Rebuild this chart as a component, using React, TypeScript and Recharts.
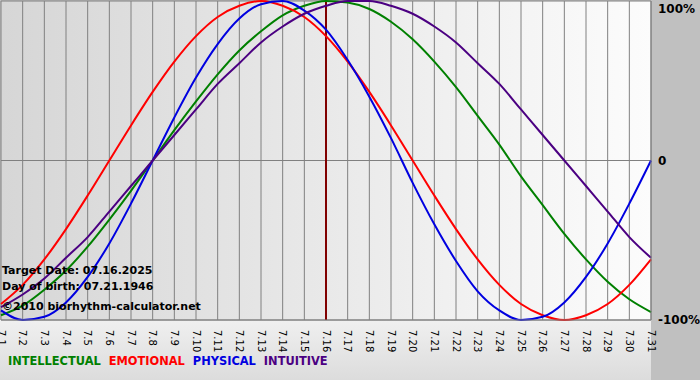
import { LineChart, Line, XAxis, YAxis, CartesianGrid, ReferenceLine } from 'recharts';

// days of July shown on the axis
const days = [
  1, 2, 3, 4, 5, 6, 7, 8, 9, 10, 11, 12, 13, 14, 15, 16,
  17, 18, 19, 20, 21, 22, 23, 24, 25, 26, 27, 28, 29, 30, 31,
];

// values in percent
const intellectual = [
  -97, -91, -81, -69, -54, -37, -19, 0, 19, 37, 54, 69, 81, 91, 97, 100,
  99, 95, 87, 76, 62, 46, 28, 10, -10, -28, -46, -62, -76, -87, -95,
];
const emotional = [
  -90, -78, -62, -43, -22, 0, 22, 43, 62, 78, 90, 97, 100, 97, 90, 78,
  62, 43, 22, 0, -22, -43, -62, -78, -90, -97, -100, -97, -90, -78, -62,
];
const physical = [
  -94, -100, -98, -89, -73, -52, -27, 0, 27, 52, 73, 89, 98, 100, 94, 82,
  63, 40, 14, -14, -40, -63, -82, -94, -100, -98, -89, -73, -52, -27, 0,
];
const intuitive = [
  -92, -84, -74, -61, -48, -32, -16, 0, 16, 32, 48, 61, 74, 84, 92, 97,
  100, 100, 97, 92, 84, 74, 61, 48, 32, 16, 0, -16, -32, -48, -61,
];

const yTicks = [-100, 0, 100];
const yLabels: Record<number, string> = { '-100': '-100%', '0': '0', '100': '100%' };

const series = [
  { key: 'intellectual', name: 'INTELLECTUAL', color: '#008000' },
  { key: 'emotional', name: 'EMOTIONAL', color: '#ff0000' },
  { key: 'physical', name: 'PHYSICAL', color: '#0000e0' },
  { key: 'intuitive', name: 'INTUITIVE', color: '#4b0082' },
];

const data = days.map((d, i) => ({
  day: d,
  intellectual: intellectual[i],
  emotional: emotional[i],
  physical: physical[i],
  intuitive: intuitive[i],
}));

const font = '"DejaVu Sans", Verdana, sans-serif';

const DayTick = (props: any) => {
  const { x, y, payload } = props;
  return (
    <text
      transform={`translate(${x},${y + 2}) rotate(90)`}
      textAnchor="start"
      dominantBaseline="central"
      fontSize={10}
      fontFamily={font}
      fill="#000"
    >
      {`7.${payload.value}`}
    </text>
  );
};

const PctTick = (props: any) => {
  const { y, payload } = props;
  const ty = Math.min(Math.max(y, 7), 322);
  return (
    <text
      x={658}
      y={ty}
      textAnchor="start"
      dominantBaseline="central"
      fontSize={12}
      fontWeight="bold"
      fontFamily={font}
      fill="#000"
    >
      {yLabels[payload.value]}
    </text>
  );
};

const noteStyle = {
  position: 'absolute' as const,
  left: 2,
  fontFamily: font,
  fontWeight: 'bold',
  fontSize: 11,
  color: '#000',
  lineHeight: '14px',
  whiteSpace: 'nowrap' as const,
};

export default function App() {
  return (
    <div
      style={{
        position: 'absolute',
        left: 0,
        top: 0,
        width: 700,
        height: 380,
        overflow: 'hidden',
        background: '#c0c0c0',
      }}
    >
      {/* light strip under the plot */}
      <div
        style={{
          position: 'absolute',
          left: 0,
          top: 320,
          width: 651,
          height: 60,
          background: 'linear-gradient(#f0f0f0, #dcdcdc)',
        }}
      />
      <LineChart
        width={700}
        height={380}
        data={data}
        margin={{ top: 1, right: 0, bottom: 0, left: 1 }}
        style={{ position: 'absolute', left: 0, top: 0 }}
      >
        <defs>
          <linearGradient id="plotBg" x1="0" y1="0" x2="1" y2="0">
            <stop offset="0%" stopColor="#d6d6d6" />
            <stop offset="100%" stopColor="#fcfcfc" />
          </linearGradient>
        </defs>
        <CartesianGrid fill="url(#plotBg)" fillOpacity={1} stroke="#808080" strokeWidth={1} />
        <XAxis
          dataKey="day"
          type="number"
          domain={[1, 31]}
          ticks={days}
          interval={0}
          height={60}
          tickLine={false}
          axisLine={{ stroke: '#808080' }}
          tick={<DayTick />}
        />
        <YAxis
          orientation="right"
          domain={[-100, 100]}
          ticks={yTicks}
          width={49}
          axisLine={{ stroke: '#808080' }}
          tickLine={false}
          tick={<PctTick />}
        />
        <ReferenceLine x={16} stroke="#800000" strokeWidth={2} />
        {series.map((s) => (
          <Line
            key={s.key}
            type="monotone"
            dataKey={s.key}
            stroke={s.color}
            strokeWidth={2}
            dot={false}
            isAnimationActive={false}
          />
        ))}
      </LineChart>
      <div style={{ ...noteStyle, top: 264 }}>Target Date: 07.16.2025</div>
      <div style={{ ...noteStyle, top: 280 }}>Day of birth: 07.21.1946</div>
      <div style={{ ...noteStyle, top: 300 }}>©2010 biorhythm-calculator.net</div>
      <div
        style={{
          position: 'absolute',
          left: 8,
          top: 353,
          fontFamily: font,
          fontWeight: 'bold',
          fontSize: 11.4,
          lineHeight: '16px',
          whiteSpace: 'nowrap',
        }}
      >
        {series.map((s) => (
          <span key={s.key} style={{ color: s.color, marginRight: 8 }}>
            {s.name}
          </span>
        ))}
      </div>
    </div>
  );
}
